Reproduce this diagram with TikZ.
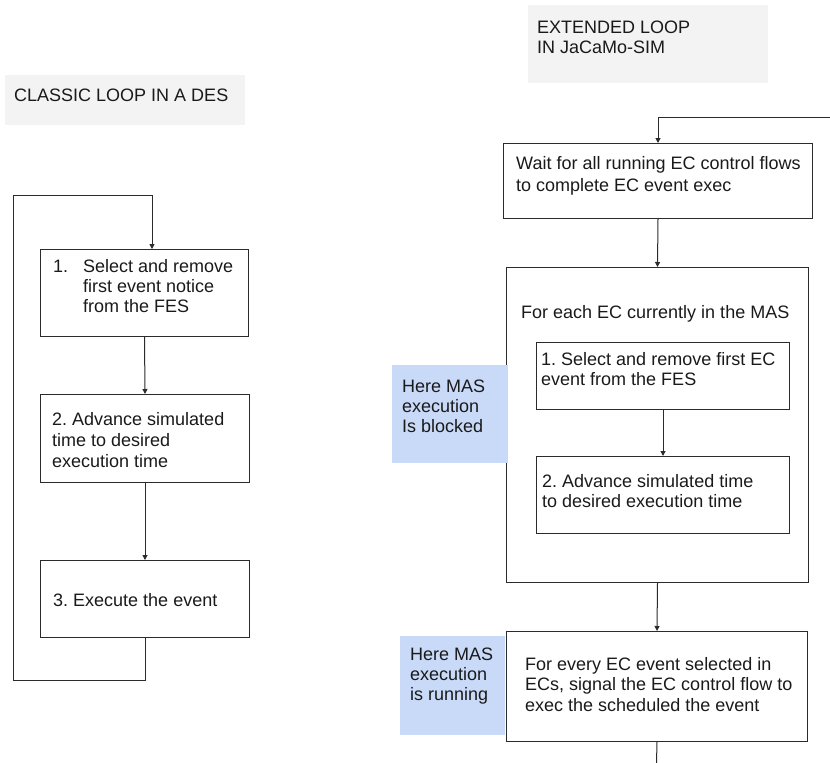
\documentclass[tikz,border=0pt]{standalone}
\usepackage{fontspec}
\setmainfont{Liberation Sans}
\usetikzlibrary{arrows.meta}
\definecolor{ink}{HTML}{1A1A1A}
\definecolor{edge}{HTML}{2B2B2B}
\definecolor{panel}{HTML}{F3F3F3}
\definecolor{note}{HTML}{C9DAF8}
\frenchspacing
% multi-line text whose reference point is the baseline of its first line
\newcommand{\txtlines}[1]{\begin{tabular}[t]{@{}l@{}}#1\end{tabular}}

\begin{document}
\begin{tikzpicture}[x=1pt,y=-1pt,
  box/.style={draw=edge, line width=1pt, inner sep=0pt, anchor=north west},
  panelbox/.style={fill=panel, draw=none, inner sep=0pt, anchor=north west},
  notebox/.style={fill=note, draw=none, inner sep=0pt, anchor=north west},
  txt/.style={anchor=base west, inner sep=0pt, text=ink, font=\fontsize{18}{20.5}\selectfont},
  flow/.style={draw=edge, line width=1pt, -{Triangle[length=5pt,width=5pt]}},
  wire/.style={draw=edge, line width=1pt}
]
\useasboundingbox (0,0) rectangle (830,763);

% ---------- classic loop ----------
\node[panelbox, minimum width=240pt, minimum height=50pt] (titleL) at (5,75) {};
\node[txt] (titleLtext) at (14,101) {CLASSIC LOOP IN A DES};

\node[box, minimum width=208pt, minimum height=87pt] (L1) at (40,249) {};
\node[txt] (L1num) at (53,272) {1.};
\node[txt, font=\fontsize{18}{20}\selectfont] (L1text) at (83,272)
  {\txtlines{Select and remove\\first event notice\\from the FES}};

\node[box, minimum width=209pt, minimum height=88pt] (L2) at (40,394) {};
\node[txt, font=\fontsize{18}{21}\selectfont] (L2text) at (52,425)
  {\txtlines{2. Advance simulated\\time to desired\\execution time}};

\node[box, minimum width=209pt, minimum height=77pt] (L3) at (40,560) {};
\node[txt] (L3text) at (53,606) {3. Execute the event};

\coordinate (loopBL) at (13,680);
\coordinate (loopTop) at (152,195);

\draw[flow] (L1.south) -- (L2.north);
\draw[flow] (L2.south) -- (L3.north);
\draw[flow] (L3.south) |- (loopBL) |- (loopTop) -- (loopTop |- L1.north);

% ---------- extended loop ----------
\node[panelbox, minimum width=240pt, minimum height=78pt] (titleR) at (528,5) {};
\node[txt, font=\fontsize{18}{20}\selectfont] (titleRtext) at (537,33)
  {\txtlines{EXTENDED LOOP\\IN JaCaMo-SIM}};

\node[box, minimum width=309pt, minimum height=75pt] (wait) at (503,143) {};
\node[txt, font=\fontsize{18}{22}\selectfont] (waittext) at (516,169)
  {\txtlines{Wait for all running EC control flows\\to complete EC event exec}};

\node[box, minimum width=302pt, minimum height=315pt] (each) at (506,267) {};
\node[txt] (eachtext) at (521,318) {For each EC currently in the MAS};

\node[box, minimum width=253pt, minimum height=67pt] (sel) at (536,342) {};
\node[txt, font=\fontsize{18}{20}\selectfont] (seltext) at (541,365)
  {\txtlines{1. Select and remove first EC\\event from the FES}};

\node[box, minimum width=253pt, minimum height=77pt] (adv) at (536,456) {};
\node[txt, font=\fontsize{18}{20}\selectfont] (advtext) at (542,487)
  {\txtlines{2. Advance simulated time\\to desired execution time}};

\node[box, minimum width=301pt, minimum height=110pt] (signal) at (506,631) {};
\node[txt] (signaltext) at (525,670)
  {\txtlines{For every EC event selected in\\ECs, signal the EC control flow to\\exec the scheduled the event}};

% side notes
\node[notebox, minimum width=116pt, minimum height=98pt] (blocked) at (392,365) {};
\node[txt, font=\fontsize{18}{20}\selectfont] (blockedtext) at (402,392)
  {\txtlines{Here MAS\\execution\\Is blocked}};

\node[notebox, minimum width=105pt, minimum height=99pt] (running) at (400,636) {};
\node[txt, font=\fontsize{18}{20}\selectfont] (runningtext) at (410,660)
  {\txtlines{Here MAS\\execution\\is running}};

% connectors
\coordinate (backIn) at (830,117);
\coordinate (onward) at (656.5,763);
\draw[flow] (backIn) -| (wait.north);
\draw[flow] (wait.south) -- (each.north);
\draw[flow] (sel.south) -- (adv.north);
\draw[flow] (each.south) -- (signal.north);
\draw[wire] (signal.south) -- (onward);
\end{tikzpicture}
\end{document}
